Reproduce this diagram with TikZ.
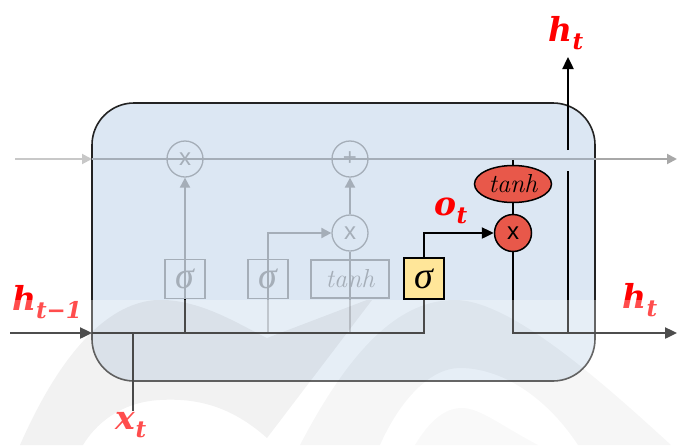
\documentclass[tikz,border=0pt]{standalone}
\usepackage{fontspec}
\newfontfamily\sansx{Liberation Sans}
\newfontfamily\grk{Liberation Serif}
\newfontfamily\lblfont{DejaVu Serif}
\usetikzlibrary{arrows.meta,shapes.geometric}
\definecolor{boxfill}{RGB}{220,231,243}
\definecolor{ggray}{RGB}{165,174,184}
\definecolor{lgray}{RGB}{200,200,200}
\definecolor{mgray}{RGB}{168,168,168}
\definecolor{redfill}{RGB}{232,88,74}
\definecolor{yel}{RGB}{255,230,153}
\definecolor{lblred}{RGB}{255,0,0}
\definecolor{border}{RGB}{35,35,35}
\newcommand{\lab}[2]{{\lblfont\bfseries\itshape #1}\raisebox{-8pt}{\lblfont\fontsize{23}{23}\selectfont\bfseries\itshape #2}}
\newcommand{\sig}{{\grk\itshape\fontsize{38}{38}\selectfont σ}}
\newcommand{\tnh}{{\itshape\fontsize{26}{26}\selectfont tanh}}
\tikzset{
  gline/.style={draw=ggray,line width=2},
  dline/.style={draw=black,line width=2.4},
  garr/.style={-{Triangle[length=10,width=10]}},
  darr/.style={-{Triangle[length=12,width=11]}},
  gcirc/.style={circle,draw=ggray,line width=1.3,minimum size=36,inner sep=0,text=ggray,font=\sansx\fontsize{24}{24}\selectfont},
  gbox/.style={rectangle,draw=ggray,line width=1.3,inner sep=0,text=ggray},
  lbl/.style={text=lblred,inner sep=0,font=\fontsize{33}{36}\selectfont},
}
\begin{document}
\begin{tikzpicture}[x=1pt,y=-1pt]
\useasboundingbox (0,0) rectangle (678,445);
% cell box
\draw[fill=boxfill,draw=border,line width=1.6,rounded corners=42] (92,103) rectangle (595,381);
% coordinates
\coordinate (cl) at (15,159);
\coordinate (cin) at (92,159);
\coordinate (cbr) at (595,159);
\coordinate (cout) at (677,159);
\coordinate (hin) at (10,333);
\coordinate (bin) at (92,333);
\coordinate (xt) at (133,411);
\coordinate (xj) at (133,333);
\coordinate (s1j) at (185,333);
\coordinate (s2j) at (268,333);
\coordinate (tj) at (350,333);
\coordinate (hout) at (677,333);
\coordinate (hj) at (568,333);
\coordinate (hg1) at (568,171);
\coordinate (hg2) at (568,150);
\coordinate (htop) at (568,57);
\coordinate (cst) at (513,160);
% gray components
\node[gcirc] (f) at (185,159) {x};
\node[gcirc] (p) at (350,159) {+};
\node[gcirc] (i) at (350,233) {x};
\node[gbox,minimum width=40,minimum height=39] (s1) at (185,279) {\sig};
\node[gbox,minimum width=40,minimum height=39] (s2) at (268,279) {\sig};
\node[gbox,minimum width=78,minimum height=38] (tb) at (350,279) {\tnh};
% gray connectors
\draw[gline,draw=lgray,garr] (cl) -- (cin);
\draw[gline] (cin) -- (cbr);
\draw[gline,draw=mgray,garr] (cbr) -- (cout);
\draw[gline,garr] (s1.south) -- (f.south);
\draw[gline,garr] (s2j) |- (i.west);
\draw[gline] (tj) -- (i.south);
\draw[gline,garr] (i.north) -- (p.south);
% active components
\node[rectangle,draw=black,line width=1.5,fill=yel,minimum width=40,minimum height=41,inner sep=0] (ys) at (424,278.5) {\sig};
\node[circle,draw=black,line width=1.5,fill=redfill,minimum size=37,inner sep=0,font=\sansx\fontsize{24}{24}\selectfont] (rc) at (513,233) {x};
\node[ellipse,draw=black,line width=1.5,fill=redfill,minimum width=77,minimum height=37,inner sep=0] (th) at (513,184) {\tnh};
% black connectors
\draw[dline,darr] (hin) -- (bin);
\draw[dline] (bin) -| (ys.south);
\draw[dline] (xt) -- (xj);
\draw[dline] (s1j) -- (s1.south);
\draw[dline,darr] (ys.north) |- (rc.west);
\draw[dline] (rc.north) -- (th.south);
\draw[dline] (th.north) -- (cst);
\draw[dline,darr] (rc.south) |- (hout);
\draw[dline] (hj) -- (hg1);
\draw[dline,darr] (hg2) -- (htop);
% labels
\node[lbl] (lht) at (566,33) {\lab{h}{t}};
\node[lbl] (lot) at (451,211) {\lab{o}{t}};
\node[lbl] (lhr) at (640,300) {\lab{h}{t}};
\node[lbl] (lhp) at (47,302) {\lab{h}{t−1}};
\node[lbl] (lxt) at (131,425) {\lab{x}{t}};
% watermark band
\fill[white,opacity=0.3] (0,300) rectangle (678,445);
\begin{scope}
\clip (0,300) rectangle (678,445);
\fill[black,opacity=0.05] (20,445) .. controls (75,320) and (130,298) .. (165,300) .. controls (205,302) and (240,325) .. (267,338) -- (372,298) -- (372,300) -- (267,438) .. controls (230,405) and (195,398) .. (160,400) .. controls (120,402) and (95,425) .. (83,445) -- cycle;
\fill[black,opacity=0.035] (300,445) .. controls (360,330) and (410,300) .. (455,300) .. controls (510,300) and (600,380) .. (671,445) -- (578,445) .. controls (545,395) and (500,368) .. (460,368) .. controls (430,368) and (400,400) .. (380,445) -- cycle;
\fill[black,opacity=0.025] (415,445) .. controls (430,420) and (445,408) .. (462,408) .. controls (480,408) and (500,425) .. (538,445) -- cycle;
\end{scope}
\end{tikzpicture}
\end{document}
